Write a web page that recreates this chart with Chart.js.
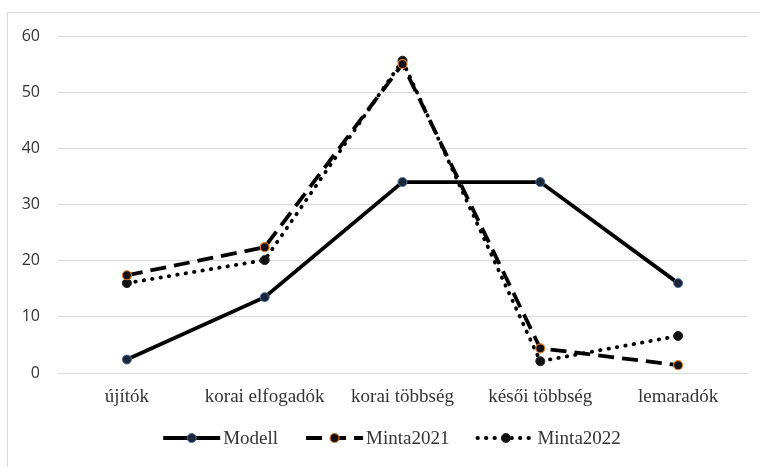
<!DOCTYPE html>
<html>
<head>
<meta charset="utf-8">
<script src="https://cdn.jsdelivr.net/npm/chart.js@4/dist/chart.umd.min.js"></script>
<style>
  html, body { margin: 0; padding: 0; background: #fff; overflow: hidden; }
  #frame { position: absolute; left: 7px; top: 12px; width: 780px; height: 454px; border: 1px solid #d9d9d9; }
  #wrap { position: absolute; left: 0; top: 0; width: 760px; height: 467px; }
</style>
</head>
<body>
<div id="frame"></div>
<div id="wrap"><canvas id="chart" width="760" height="467"></canvas></div>
<script>
var categories = ["újítók", "korai elfogadók", "korai többség", "késői többség", "lemaradók"];
var modell = [2.4, 13.5, 34, 34, 16];
var minta2021 = [17.4, 22.4, 55, 4.4, 1.4];
var minta2022 = [16, 20.1, 55.6, 2.1, 6.6];
var yTicks = [0, 10, 20, 30, 40, 50, 60];

var textColor = "#333";
var serif = "'Liberation Serif', 'DejaVu Serif', serif";

// legend drawn by hand so each entry shows line style + marker like the original
var lineLegend = {
  id: "lineLegend",
  afterDraw: function (chart) {
    var ctx = chart.ctx;
    var sets = chart.data.datasets;
    var lineLen = 57, gapText = 3, gapItem = 28;
    ctx.save();
    ctx.font = "19px " + serif;
    var widths = sets.map(function (ds) {
      return lineLen + gapText + ctx.measureText(ds.label).width;
    });
    var total = widths.reduce(function (a, b) { return a + b; }, 0) + gapItem * (sets.length - 1);
    var x = 392 - total / 2;
    var y = 438;
    sets.forEach(function (ds, i) {
      ctx.beginPath();
      ctx.setLineDash(ds.borderDash || []);
      ctx.lineCap = ds.borderCapStyle || "butt";
      ctx.lineWidth = ds.borderWidth;
      ctx.strokeStyle = ds.borderColor;
      ctx.moveTo(x, y);
      ctx.lineTo(x + lineLen, y);
      ctx.stroke();
      ctx.setLineDash([]);
      ctx.beginPath();
      ctx.arc(x + lineLen / 2, y, ds.pointRadius, 0, Math.PI * 2);
      ctx.fillStyle = ds.pointBackgroundColor;
      ctx.fill();
      ctx.lineWidth = ds.pointBorderWidth;
      ctx.strokeStyle = ds.pointBorderColor;
      ctx.stroke();
      ctx.fillStyle = textColor;
      ctx.textBaseline = "middle";
      ctx.textAlign = "left";
      ctx.fillText(ds.label, x + lineLen + gapText, y + 1);
      x += widths[i] + gapItem;
    });
    ctx.restore();
  }
};

new Chart("chart", {
  type: "line",
  data: {
    labels: categories,
    datasets: [
      {
        label: "Modell",
        data: modell,
        borderColor: "#000",
        borderWidth: 3.8,
        pointRadius: 4.5,
        pointBackgroundColor: "#1c2636",
        pointBorderColor: "#4a6fa5",
        pointBorderWidth: 1,
        tension: 0
      },
      {
        label: "Minta2021",
        data: minta2021,
        borderColor: "#000",
        borderWidth: 3.8,
        borderDash: [16, 8],
        pointRadius: 4.5,
        pointBackgroundColor: "#111",
        pointBorderColor: "#e07b28",
        pointBorderWidth: 1.2,
        tension: 0
      },
      {
        label: "Minta2022",
        data: minta2022,
        borderColor: "#000",
        borderWidth: 3.8,
        borderDash: [0.5, 8],
        borderCapStyle: "round",
        pointRadius: 4.5,
        pointBackgroundColor: "#111",
        pointBorderColor: "#222",
        pointBorderWidth: 1,
        tension: 0
      }
    ]
  },
  options: {
    responsive: false,
    animation: false,
    layout: { padding: { left: 0, top: 36, right: 13, bottom: 54 } },
    plugins: {
      legend: { display: false },
      tooltip: { enabled: false }
    },
    scales: {
      x: {
        offset: true,
        grid: { display: false, drawTicks: false },
        border: { display: false },
        ticks: {
          color: textColor,
          font: { family: serif, size: 19 },
          padding: 13,
          maxRotation: 0
        },
        afterFit: function (scale) { scale.height = 40; }
      },
      y: {
        min: 0,
        max: 60,
        afterBuildTicks: function (scale) {
          scale.ticks = yTicks.map(function (v) { return { value: v }; });
        },
        grid: { color: "#d9d9d9", lineWidth: 1, drawTicks: false },
        border: { display: false },
        ticks: {
          color: textColor,
          font: { family: "'Open Sans', sans-serif", size: 16 },
          padding: 18
        },
        afterFit: function (scale) { scale.width = 58; }
      }
    }
  },
  plugins: [lineLegend]
});
</script>
</body>
</html>
